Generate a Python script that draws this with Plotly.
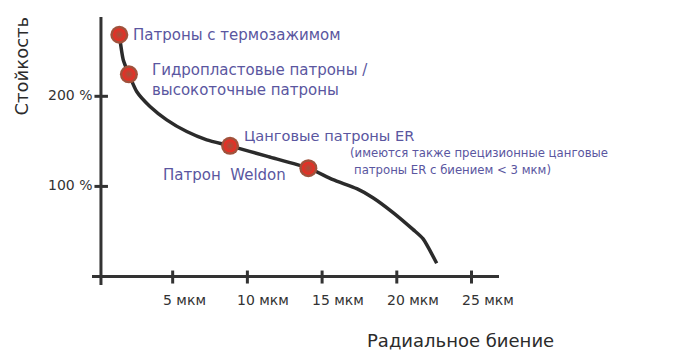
import plotly.graph_objects as go

# ---- data ----
curve_x = [1.43, 1.69, 2.07, 2.59, 3.48, 4.60, 5.94, 7.28, 8.84, 11.4, 14.08, 15.73, 17.32, 18.4, 19.75, 21.1, 21.75, 22.67]
curve_y = [268.3, 240.6, 224.4, 205.3, 188.7, 173.9, 160.9, 151.7, 145, 133, 120.2, 107.5, 97.5, 87.5, 71, 52, 42, 14.7]

point_x = [1.43, 2.07, 8.84, 14.08]
point_y = [268.3, 224.4, 145, 120.2]
point_labels = [
    "Патроны с термозажимом",
    "Гидропластовые патроны /<br>высокоточные патроны",
    "Цанговые патроны ER",
    "Патрон\u00a0 Weldon",
]
note_lines = ["(имеются также прецизионные цанговые", "патроны ER с биением < 3 мкм)"]

x_tick_vals = [5, 10, 15, 20, 25]
x_tick_text = ["5 мкм", "10 мкм", "15 мкм", "20 мкм", "25 мкм"]
y_tick_vals = [100, 200]
y_tick_text = ["100 %", "200 %"]

x_title = "Радиальное биение"
y_title = "Стойкость"

# ---- styles ----
AX = "#333333"
LBL = "#5a56a0"
FONT = "DejaVu Sans"
X_RANGE = [-0.4, 26.84]
Y_RANGE = [-9.4, 288]
YAXIS_X = 0.2

fig = go.Figure()
fig.add_trace(go.Scatter(x=curve_x, y=curve_y, mode="lines",
                         line=dict(color="#2b2b2b", width=3.5, shape="spline", smoothing=0.6),
                         hoverinfo="skip"))
fig.add_trace(go.Scatter(x=point_x, y=point_y, mode="markers",
                         marker=dict(size=18, color="#a0523c", line=dict(width=0)),
                         hoverinfo="skip"))
fig.add_trace(go.Scatter(x=point_x, y=point_y, mode="markers",
                         marker=dict(size=13, color="#f02a22", line=dict(width=0),
                                     gradient=dict(type="radial", color="#a0523c")),
                         hoverinfo="skip"))

shapes = []
shapes.append(dict(type="line", xref="paper", yref="y", x0=0, x1=1, y0=0, y1=0,
                   line=dict(color=AX, width=3), layer="below"))
shapes.append(dict(type="line", xref="x", yref="paper", x0=YAXIS_X, x1=YAXIS_X, y0=0, y1=1,
                   line=dict(color=AX, width=3), layer="below"))
for v in x_tick_vals:
    shapes.append(dict(type="line", xref="x", yref="y", x0=v, x1=v, ysizemode="pixel",
                       yanchor=0, y0=-7, y1=6, line=dict(color=AX, width=3), layer="below"))
for v in y_tick_vals:
    shapes.append(dict(type="line", xref="x", yref="y", y0=v, y1=v, xsizemode="pixel",
                       xanchor=YAXIS_X, x0=-6.5, x1=7, line=dict(color=AX, width=3), layer="below"))

ann = []
for v, t in zip(x_tick_vals, x_tick_text):
    ann.append(dict(x=v, y=0, xref="x", yref="y", text=t, showarrow=False, xanchor="left",
                    yanchor="middle", xshift=-12, yshift=-23, font=dict(family=FONT, size=14, color=AX)))
for v, t in zip(y_tick_vals, y_tick_text):
    ann.append(dict(x=YAXIS_X, y=v, xref="x", yref="y", text=t, showarrow=False, xanchor="right",
                    yanchor="middle", xshift=-7, yshift=1, font=dict(family=FONT, size=14, color=AX)))

offsets = [(12, 0), (21, -6), (12, 10), (-147, -7)]
sizes = [15, 15, 14.6, 15]
for x, y, t, (dx, dy), s in zip(point_x, point_y, point_labels, offsets, sizes):
    ann.append(dict(x=x, y=y, xref="x", yref="y", text=t, showarrow=False, xanchor="left",
                    yanchor="middle", align="left", xshift=dx, yshift=dy,
                    font=dict(family=FONT, size=s, color=LBL)))
note_offsets = [(40, 15), (44, -2)]
for t, (dx, dy) in zip(note_lines, note_offsets):
    ann.append(dict(x=point_x[3], y=point_y[3], xref="x", yref="y", text=t, showarrow=False,
                    xanchor="left", yanchor="middle", xshift=dx, yshift=dy,
                    font=dict(family=FONT, size=11.7, color=LBL)))

ann.append(dict(x=(460 - 92) / 407, y=(353 - 68 - 340) / 268, xref="paper", yref="paper",
                text=x_title, showarrow=False, xanchor="center", yanchor="middle",
                font=dict(family=FONT, size=18, color="#2b2b2b")))
ann.append(dict(x=(21 - 92) / 407, y=(285 - 66.5) / 268, xref="paper", yref="paper", text=y_title,
                showarrow=False, textangle=-90, xanchor="center", yanchor="middle",
                font=dict(family=FONT, size=18, color="#2b2b2b")))

fig.update_layout(
    width=696, height=353, margin=dict(l=92, r=197, t=17, b=68),
    paper_bgcolor="white", plot_bgcolor="white", showlegend=False,
    xaxis=dict(range=X_RANGE, visible=False, fixedrange=True),
    yaxis=dict(range=Y_RANGE, visible=False, fixedrange=True),
    shapes=shapes, annotations=ann,
)
fig.write_html("out.html")
